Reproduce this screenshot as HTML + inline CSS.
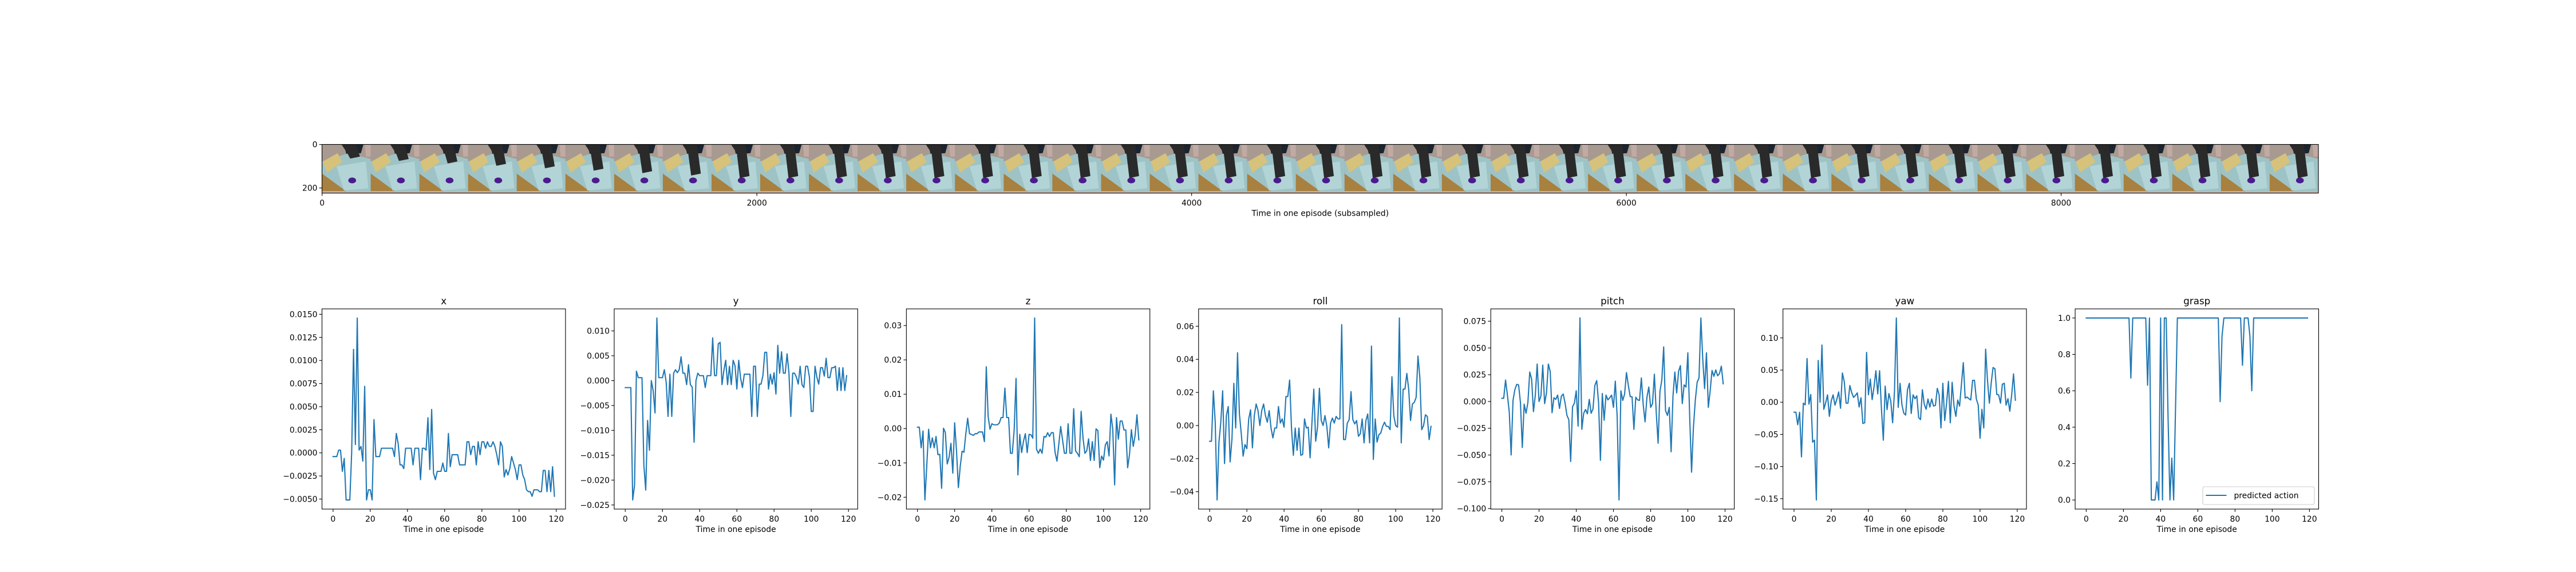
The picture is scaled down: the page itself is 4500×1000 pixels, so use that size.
<!DOCTYPE html>
<html><head><meta charset="utf-8"><style>
html,body{margin:0;padding:0;background:#fff;}
svg{display:block;font-family:"DejaVu Sans","Liberation Sans",sans-serif;}
</style></head>
<body>
<svg id="fig" width="4500" height="1000" viewBox="0 0 4500 1000" xmlns="http://www.w3.org/2000/svg">
<rect width="4500" height="1000" fill="#fff"/>
</svg>
<script>
const steps = Array.from({length:120},(_,i)=>i);
const xTicksEp = [0,20,40,60,80,100,120];
const seriesX = [-0.0004,-0.0004,-0.0004,0.0003,0.0003,-0.0020,-0.0006,-0.0051,-0.0051,-0.0051,
0.0000,0.0112,0.0009,0.0146,0.0003,0.0007,-0.0009,0.0072,-0.0051,-0.0040,
-0.0040,-0.0051,0.0036,-0.0004,-0.0004,-0.0004,0.0005,0.0005,0.0005,0.0005,
0.0005,0.0005,0.0005,-0.0004,0.0021,0.0010,-0.0013,-0.0013,-0.0017,0.0005,
0.0005,0.0005,0.0005,-0.0013,0.0005,0.0005,0.0005,-0.0029,0.0005,0.0005,
0.0003,0.0038,-0.0018,0.0047,-0.0022,-0.0029,-0.0020,-0.0020,-0.0020,-0.0011,
-0.0020,-0.0020,0.0021,-0.0015,-0.0002,-0.0002,-0.0002,-0.0002,-0.0013,-0.0013,
-0.0013,-0.0013,0.0012,0.0012,-0.0002,0.0007,0.0007,-0.0013,0.0012,-0.0002,
0.0012,0.0012,0.0005,0.0012,0.0007,0.0007,0.0012,0.0007,-0.0002,-0.0013,
0.0012,0.0007,-0.0026,-0.0018,-0.0024,-0.0017,-0.0004,-0.0011,-0.0018,-0.0029,
-0.0013,-0.0013,-0.0024,-0.0029,-0.0040,-0.0042,-0.0042,-0.0047,-0.0040,-0.0040,
-0.0040,-0.0042,-0.0042,-0.0019,-0.0019,-0.0042,-0.0019,-0.0042,-0.0015,-0.0047];
const seriesY = [-0.0014,-0.0014,-0.0014,-0.0014,-0.0240,-0.0210,0.0019,0.0006,0.0006,0.0006,
-0.0170,-0.0220,-0.0080,-0.0140,0.0000,-0.0020,-0.0065,0.0126,0.0006,0.0006,
0.0006,0.0022,-0.0003,-0.0072,0.0013,-0.0072,0.0015,0.0022,0.0016,0.0022,
0.0048,0.0015,0.0015,-0.0008,0.0032,-0.0008,-0.0013,-0.0124,0.0000,0.0015,
0.0010,0.0010,0.0010,-0.0014,0.0010,0.0010,0.0010,0.0086,0.0010,0.0010,
0.0074,0.0077,-0.0008,0.0020,0.0041,-0.0008,0.0029,-0.0008,0.0041,0.0030,
-0.0017,0.0041,0.0005,-0.0014,0.0013,0.0013,0.0013,0.0013,-0.0072,0.0029,
0.0029,-0.0072,-0.0007,-0.0007,0.0010,0.0057,0.0057,-0.0017,0.0013,-0.0007,
0.0016,-0.0027,0.0071,0.0015,0.0058,0.0015,0.0015,0.0054,0.0015,-0.0072,
0.0015,0.0015,0.0007,-0.0007,0.0029,-0.0008,-0.0014,0.0029,0.0029,0.0007,
-0.0062,-0.0062,0.0029,0.0007,-0.0007,0.0026,0.0026,0.0009,0.0045,0.0006,
0.0006,0.0026,0.0026,0.0029,-0.0020,0.0026,-0.0020,0.0026,-0.0020,0.0010];
const seriesZ = [0.0004,0.0004,-0.0056,-0.0007,-0.0208,-0.0110,-0.0002,-0.0056,-0.0027,-0.0056,
-0.0023,-0.0076,-0.0075,-0.0174,0.0001,-0.0012,-0.0103,-0.0084,-0.0043,-0.0130,
0.0017,-0.0065,-0.0172,-0.0110,-0.0066,-0.0069,-0.0015,0.0030,-0.0015,-0.0017,
-0.0020,-0.0015,-0.0015,-0.0010,-0.0010,-0.0010,-0.0038,0.0180,0.0035,-0.0002,
0.0014,0.0011,0.0011,0.0011,0.0016,0.0032,0.0032,0.0118,0.0032,0.0032,
-0.0072,-0.0072,-0.0003,0.0146,-0.0135,-0.0017,-0.0070,-0.0037,-0.0015,-0.0070,
-0.0017,-0.0018,-0.0028,0.0322,-0.0060,-0.0072,-0.0060,-0.0072,-0.0023,-0.0025,
-0.0012,-0.0023,-0.0012,-0.0012,-0.0070,-0.0095,-0.0045,0.0006,-0.0033,-0.0072,
-0.0072,0.0014,-0.0072,-0.0072,0.0058,-0.0065,-0.0072,-0.0082,0.0050,-0.0027,
-0.0072,-0.0065,-0.0030,-0.0093,-0.0038,-0.0093,-0.0001,-0.0006,-0.0114,-0.0080,
-0.0092,-0.0048,-0.0038,-0.0080,0.0042,-0.0002,-0.0164,0.0032,-0.0031,0.0022,
0.0022,-0.0004,-0.0004,-0.0114,-0.0075,-0.0003,-0.0052,-0.0020,0.0040,-0.0033];
const seriesRoll = [-0.0095,-0.0095,0.021,0.002,-0.045,-0.010,0.002,0.021,-0.023,0.006,
0.0115,-0.022,-0.008,0.0255,-0.0015,0.044,0.007,-0.005,-0.0185,-0.0115,
-0.014,0.004,0.0095,-0.0135,0.006,0.013,0.009,0.000,0.009,0.013,
0.006,0.002,0.009,-0.0015,-0.0075,-0.0015,-0.0015,0.0115,0.0015,0.004,
-0.001,0.0175,0.0175,0.0275,-0.0015,-0.018,-0.0015,-0.015,-0.0015,-0.018,
-0.0175,0.004,-0.0015,-0.001,-0.0195,0.002,0.022,-0.0095,-0.001,0.0225,
0.003,0.000,0.006,-0.0005,-0.0135,0.0015,0.0045,0.0015,0.0055,0.004,
0.004,0.061,-0.0085,-0.0085,0.0015,0.0035,0.0205,0.0035,0.001,0.003,
-0.0065,-0.005,0.004,-0.0105,0.003,0.007,-0.0105,0.048,-0.0205,0.004,
-0.010,-0.0055,-0.0045,-0.0005,0.002,-0.0005,-0.0005,-0.0025,0.0295,0.006,
0.000,-0.001,0.065,-0.0105,0.022,0.022,0.0315,0.022,0.003,0.013,
0.014,0.017,0.042,0.029,-0.0025,0.000,0.0065,0.0055,-0.0085,-0.0005];
const seriesPitch = [0.003,0.003,0.020,0.006,-0.010,-0.050,0.001,0.011,0.016,0.0155,
-0.001,-0.043,-0.0025,-0.011,-0.001,0.0275,0.021,-0.0095,0.006,0.035,
0.000,0.005,0.034,-0.002,0.008,0.035,0.028,-0.0105,0.0035,0.002,
0.006,-0.0065,0.005,0.007,-0.0015,-0.013,-0.017,-0.056,-0.005,-0.0015,
0.010,-0.023,0.078,-0.026,-0.011,-0.0075,-0.0115,0.002,-0.011,-0.007,
0.015,0.0195,-0.001,-0.055,0.0075,-0.0175,0.006,0.0015,0.0035,0.006,
-0.0055,0.019,-0.014,-0.092,0.010,0.001,0.007,0.027,0.015,0.0045,
0.0045,-0.026,0.004,0.0015,0.001,0.022,-0.003,-0.019,0.004,0.0135,
-0.0055,-0.002,0.0255,-0.010,-0.039,0.0095,0.020,0.051,-0.0085,-0.013,
-0.0055,-0.047,0.005,0.0275,0.008,0.028,0.0335,-0.002,0.0155,0.0135,
0.0455,-0.015,-0.066,-0.024,0.001,0.018,0.022,0.078,0.040,0.012,
0.0455,-0.0055,0.010,0.029,0.0235,0.0295,0.024,0.026,0.033,0.0165];
const seriesYaw = [-0.0155,-0.0155,-0.035,-0.0155,-0.085,-0.0015,-0.004,0.068,-0.003,0.012,
-0.062,-0.059,-0.152,0.065,0.000,0.089,-0.011,-0.001,0.0115,-0.022,
0.002,0.0115,-0.0045,0.0045,0.016,-0.0095,0.0455,0.032,-0.0015,-0.0015,
0.026,0.015,0.0075,0.0105,0.0145,-0.0075,0.007,-0.033,-0.032,0.0775,
0.0115,0.036,0.004,0.024,0.049,0.013,0.049,-0.011,-0.059,0.025,
-0.0115,0.0135,0.002,-0.032,0.017,0.131,-0.008,0.0295,-0.004,-0.017,
-0.020,0.0195,0.0295,-0.0175,0.0115,0.0055,0.010,-0.024,-0.027,0.0195,
-0.003,-0.011,0.005,-0.0075,0.005,-0.006,-0.005,0.0215,0.0115,-0.040,
0.0295,-0.0285,-0.002,0.0325,-0.032,0.031,-0.006,-0.022,0.0035,-0.006,
0.028,0.0615,0.0065,0.008,0.0055,0.0035,0.034,0.034,0.005,-0.004,
-0.056,-0.011,-0.040,0.0825,0.034,-0.0015,0.030,0.054,0.052,0.012,
0.0115,-0.0015,0.028,0.0295,-0.0045,0.0055,-0.014,0.0115,0.044,0.003];
const seriesGrasp = [1,1,1,1,1,1,1,1,1,1,
1,1,1,1,1,1,1,1,1,1,
1,1,1,1,0.67,1,1,1,1,1,
1,1,1,0.63,1,0,0,0,0.1,0,
1,0,1,1,0.45,0,0.23,0,0.5,1,
1,1,1,1,1,1,1,1,1,1,
1,1,1,1,1,1,1,1,1,1,
1,1,0.54,0.9,1,1,1,1,1,1,
1,1,1,1,0.74,1,1,1,0.9,0.6,
1,1,1,1,1,1,1,1,1,1,
1,1,1,1,1,1,1,1,1,1,
1,1,1,1,1,1,1,1,1,1];
const ticksX = [-0.005,-0.0025,0,0.0025,0.005,0.0075,0.01,0.0125,0.015];
const ticksY = [-0.025,-0.02,-0.015,-0.01,-0.005,0,0.005,0.01];
const ticksZ = [-0.02,-0.01,0,0.01,0.02,0.03];
const ticksRoll = [-0.04,-0.02,0,0.02,0.04,0.06];
const ticksPitch = [-0.1,-0.075,-0.05,-0.025,0,0.025,0.05,0.075];
const ticksYaw = [-0.15,-0.1,-0.05,0,0.05,0.1];
const ticksGrasp = [0,0.2,0.4,0.6,0.8,1.0];
const stripTicksX = [0,2000,4000,6000,8000];
const stripTicksY = [0,200];

const NS='http://www.w3.org/2000/svg';
const svg=document.getElementById('fig');
function mk(tag,attrs,parent){const e=document.createElementNS(NS,tag);for(const k in attrs)e.setAttribute(k,attrs[k]);(parent||svg).appendChild(e);return e;}
function fmt(v,d){const s=Math.abs(v).toFixed(d);return (v<-1e-12?'\u2212':'')+s;}

// ---------- image strip ----------
const SX0=562.5, SX1=4050, nFrames=41, frameW=224, frameH=224;
const stripW=nFrames*frameW;
const kpx=(SX1-SX0)/stripW;
const stripTop=252.5, stripBot=stripTop+frameH*kpx;
const sx=v=>SX0+(v+0.5)*kpx;
const sy=v=>stripTop+(v+0.5)*kpx;
const strip=mk('g',{});


const fw=frameW*kpx, fh=frameH*kpx;
for(let i=0;i<nFrames;i++){
  const fx=SX0+i*fw, fy=stripTop;
  const g=mk('g',{},strip);
  
  
  const P=(a,b)=>(fx+a*fw).toFixed(1)+','+(fy+b*fh).toFixed(1);
  mk('rect',{x:fx,y:fy,width:fw+0.5,height:fh,fill:'#a89a90'},g);
  mk('polygon',{points:[P(0.45,0),P(0.85,0),P(0.8,0.18),P(0.5,0.2)].join(' '),fill:'#1c2430'},g);
  mk('polygon',{points:[P(0.88,0),P(1,0),P(1,0.25),P(0.9,0.25)].join(' '),fill:'#c2aaa4'},g);
  mk('polygon',{points:[P(0,0.35),P(0.55,0.18),P(1,0.3),P(1,1),P(0,1)].join(' '),fill:'#9ec3c6'},g);
  mk('polygon',{points:[P(0,0.6),P(0.55,1),P(0,1)].join(' '),fill:'#a8803f'},g);
  mk('polygon',{points:[P(0.02,0.35),P(0.32,0.18),P(0.42,0.36),P(0.1,0.58)].join(' '),fill:'#d6c27a'},g);
  mk('polygon',{points:[P(0.3,0.45),P(0.9,0.35),P(0.95,0.9),P(0.45,0.95)].join(' '),fill:'#b2d4d6'},g);
  mk('rect',{x:fx,y:fy+0.96*fh,width:fw,height:0.04*fh,fill:'#c9b3aa'},g);
  const reach=0.25+0.4*Math.min(1,i/8);
  mk('polygon',{points:[P(0.4,0),P(0.7,0),P(0.78,reach),P(0.58,reach+0.04),P(0.52,0.18)].join(' '),fill:'#2a2a2a'},g);
  mk('ellipse',{cx:fx+0.62*fw,cy:fy+0.74*fh,rx:0.08*fw,ry:0.06*fh,fill:'#4b1a8c'},g);
}
const sframe=mk('rect',{x:SX0,y:stripTop,width:SX1-SX0,height:stripBot-stripTop,fill:'none',stroke:'#000','stroke-width':1.1});


stripTicksX.forEach(v=>{
  const x=sx(v);
  mk('line',{x1:x,x2:x,y1:stripBot,y2:stripBot+4.9,stroke:'#000','stroke-width':1.1});
  const t=mk('text',{x:x,y:stripBot+22,'font-size':13.9,'text-anchor':'middle',fill:'#000'});
  t.textContent=String(v);
  
  
});
stripTicksY.forEach(v=>{
  const y=sy(v);
  mk('line',{x1:SX0-4.9,x2:SX0,y1:y,y2:y,stroke:'#000','stroke-width':1.1});
  const t=mk('text',{x:SX0-8,y:y+5,'font-size':13.9,'text-anchor':'end',fill:'#000'});
  t.textContent=String(v);
  
  
});
const sxl=mk('text',{x:(SX0+SX1)/2,y:stripBot+40,'font-size':13.9,'text-anchor':'middle',fill:'#000'});
sxl.textContent='Time in one episode (subsampled)';



// ---------- subplots ----------
const panels=[
 {title:'x',data:seriesX,ticks:ticksX,dec:4},
 {title:'y',data:seriesY,ticks:ticksY,dec:3},
 {title:'z',data:seriesZ,ticks:ticksZ,dec:2},
 {title:'roll',data:seriesRoll,ticks:ticksRoll,dec:2},
 {title:'pitch',data:seriesPitch,ticks:ticksPitch,dec:3},
 {title:'yaw',data:seriesYaw,ticks:ticksYaw,dec:2},
 {title:'grasp',data:seriesGrasp,ticks:ticksGrasp,dec:1,legend:true}
];
const PW=425.36, GAP=85.07, PT=540, PB=890;
panels.forEach((p,k)=>{
  const L=562.5+k*(PW+GAP), R=L+PW;
  const g=mk('g',{});
  
  
  const n=p.data.length;
  const xmin=0, xmax=n-1, xm=(xmax-xmin)*0.05;
  const xl0=xmin-xm, xl1=xmax+xm;
  const dmin=Math.min(...p.data), dmax=Math.max(...p.data), ym=(dmax-dmin)*0.05;
  const yl0=dmin-ym, yl1=dmax+ym;
  const X=v=>L+(v-xl0)/(xl1-xl0)*PW;
  const Y=v=>PB-(v-yl0)/(yl1-yl0)*(PB-PT);
  const pts=p.data.map((v,i)=>X(steps[i]).toFixed(2)+','+Y(v).toFixed(2)).join(' ');
  const line=mk('polyline',{points:pts,fill:'none',stroke:'#1f77b4','stroke-width':2.08,'stroke-linejoin':'round','stroke-linecap':'square'},g);
  
  
  const fr=mk('rect',{x:L,y:PT,width:PW,height:PB-PT,fill:'none',stroke:'#000','stroke-width':1.1},g);
  
  
  xTicksEp.forEach(v=>{
    const x=X(v);
    mk('line',{x1:x,x2:x,y1:PB,y2:PB+4.9,stroke:'#000','stroke-width':1.1},g);
    const t=mk('text',{x:x,y:PB+22,'font-size':13.9,'text-anchor':'middle',fill:'#000'},g);
    t.textContent=String(v);
    
    
  });
  p.ticks.forEach(v=>{
    const y=Y(v);
    if(y<PT-0.5||y>PB+0.5)return;
    mk('line',{x1:L-4.9,x2:L,y1:y,y2:y,stroke:'#000','stroke-width':1.1},g);
    const t=mk('text',{x:L-8,y:y+5,'font-size':13.9,'text-anchor':'end',fill:'#000'},g);
    t.textContent=fmt(v,p.dec);
    
    
  });
  const tt=mk('text',{x:(L+R)/2,y:PT-8,'font-size':16.7,'text-anchor':'middle',fill:'#000'},g);
  tt.textContent=p.title;
  
  
  const xl=mk('text',{x:(L+R)/2,y:PB+40,'font-size':13.9,'text-anchor':'middle',fill:'#000'},g);
  xl.textContent='Time in one episode';
  
  
  if(p.legend){
    const lg=mk('g',{},g);
    
    
    mk('rect',{x:R-202.5,y:PB-39,width:195,height:31,rx:3,fill:'#fff','fill-opacity':0.8,stroke:'#ccc','stroke-width':1.1},lg);
    mk('line',{x1:R-197,x2:R-161,y1:PB-24,y2:PB-24,stroke:'#1f77b4','stroke-width':2.08},lg);
    const lt=mk('text',{x:R-148,y:PB-19,'font-size':13.9,fill:'#000'},lg);
    lt.textContent='predicted action';
    
    
  }
});
</script>
</body></html>
